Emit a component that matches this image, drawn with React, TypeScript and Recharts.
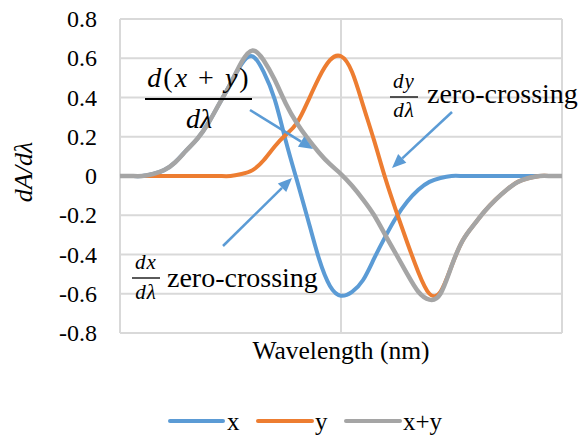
import type { CSSProperties, ReactNode } from 'react';
import { LineChart, Line, XAxis, YAxis, CartesianGrid } from 'recharts';

// wavelength positions (arbitrary units, no tick labels on the axis)
const wavelength = [
  0, 2.5, 5, 7.5, 10, 12.5, 15, 17.5, 20, 22.5, 25, 27.5, 30, 32.5, 35, 37.5, 40, 42.5, 45, 47.5,
  50, 52.5, 55, 57.5, 60, 62.5, 65, 67.5, 70, 72.5, 75, 77.5, 80, 82.5, 85, 87.5, 90, 92.5, 95, 97.5, 100,
];

// dA/dλ for component x
const xValues = [
  0, 0, 0, 0.01, 0.03, 0.07, 0.13, 0.19, 0.27, 0.37, 0.47, 0.57, 0.61, 0.53, 0.39, 0.18, -0.02, -0.22, -0.42, -0.56,
  -0.61, -0.59, -0.53, -0.42, -0.31, -0.21, -0.13, -0.07, -0.03, -0.01, 0, 0, 0, 0, 0, 0, 0, 0, 0, 0, 0,
];

// dA/dλ for component y
const yValues = [
  0, 0, 0, 0, 0, 0, 0, 0, 0, 0, 0, 0.01, 0.03, 0.08, 0.15, 0.21, 0.27, 0.38, 0.5, 0.59,
  0.61, 0.53, 0.36, 0.18, -0.01, -0.18, -0.34, -0.49, -0.6, -0.59, -0.46, -0.33, -0.25, -0.18, -0.12, -0.07, -0.03, -0.01, 0, 0, 0,
];

// dA/dλ for the mixture x+y
const xyValues = [
  0, 0, 0, 0.01, 0.03, 0.07, 0.13, 0.19, 0.27, 0.37, 0.47, 0.58, 0.64, 0.59, 0.49, 0.37, 0.27, 0.19, 0.12, 0.06,
  0.01, -0.05, -0.12, -0.2, -0.3, -0.4, -0.5, -0.59, -0.63, -0.6, -0.46, -0.33, -0.25, -0.18, -0.12, -0.07, -0.03, -0.01, 0, 0, 0,
];

const yTicks = [-0.8, -0.6, -0.4, -0.2, 0, 0.2, 0.4, 0.6, 0.8];
const xTicks = [0, 50, 100];
const seriesNames = ['x', 'y', 'x+y'];

const data = wavelength.map((w, i) => ({ w, x: xValues[i], y: yValues[i], xy: xyValues[i] }));

const FONT = '"Liberation Serif"';
const BLUE = '#5B9BD5';
const ORANGE = '#ED7D31';
const GRAY = '#A5A5A5';
const GRID = '#D9D9D9';
const INK = '#000';

// y tick label drawn as html so the serif font is honoured
function YTick({ x, y, payload }: any) {
  const v = payload.value as number;
  return (
    <foreignObject x={x - 80} y={y - 20} width={80} height={40}>
      <div style={{ width: 80, height: 40, lineHeight: '40px', textAlign: 'right', fontFamily: FONT, fontSize: 24, color: INK }}>
        {v === 0 ? '0' : v.toFixed(1)}
      </div>
    </foreignObject>
  );
}

// text placed by its baseline; anchor like svg text-anchor
function Txt({ x, base, size, anchor = 'start', style, children }: {
  x: number; base: number; size: number; anchor?: 'start' | 'middle' | 'end'; style?: CSSProperties; children: ReactNode;
}) {
  const shift = anchor === 'middle' ? 'translateX(-50%)' : anchor === 'end' ? 'translateX(-100%)' : undefined;
  return (
    <div
      style={{
        position: 'absolute', left: x, top: base - 0.8375 * size, fontSize: size, lineHeight: `${size}px`,
        fontFamily: FONT, color: INK, whiteSpace: 'nowrap', transform: shift, ...style,
      }}
    >
      {children}
    </div>
  );
}

function Arrow({ x1, y1, x2, y2 }: { x1: number; y1: number; x2: number; y2: number }) {
  const len = Math.hypot(x2 - x1, y2 - y1);
  const ux = (x2 - x1) / len;
  const uy = (y2 - y1) / len;
  const bx = x2 - ux * 14;
  const by = y2 - uy * 14;
  const px = -uy * 6;
  const py = ux * 6;
  return (
    <g>
      <line x1={x1} y1={y1} x2={bx} y2={by} stroke={BLUE} strokeWidth={2.5} />
      <polygon points={`${x2},${y2} ${bx + px},${by + py} ${bx - px},${by - py}`} fill={BLUE} />
    </g>
  );
}

function Overlay() {
  return (
    <>
      <svg width={587} height={438} style={{ position: 'absolute', left: 0, top: 0, pointerEvents: 'none' }}>
        <line x1={145} y1={99} x2={252} y2={99} stroke={INK} strokeWidth={1.8} />
        <line x1={390} y1={97} x2={418} y2={97} stroke={INK} strokeWidth={1.3} />
        <line x1={132} y1={278} x2={160} y2={278} stroke={INK} strokeWidth={1.3} />

        <Arrow x1={250} y1={110} x2={313} y2={149} />
        <Arrow x1={223} y1={246} x2={292} y2={178} />
        <Arrow x1={452} y1={112} x2={392} y2={168} />

        {/* legend swatches */}
        <line x1={170} y1={421} x2={223} y2={421} stroke={BLUE} strokeWidth={4} strokeLinecap="round" />
        <line x1={258} y1={421} x2={312} y2={421} stroke={ORANGE} strokeWidth={4} strokeLinecap="round" />
        <line x1={346} y1={421} x2={400} y2={421} stroke={GRAY} strokeWidth={4} strokeLinecap="round" />
      </svg>

      {/* y axis title */}
      <div
        style={{
          position: 'absolute', left: 24 - 60, top: 172 - 13, width: 120, height: 26, lineHeight: '26px', textAlign: 'center',
          fontFamily: FONT, fontSize: 26, fontStyle: 'italic', color: INK, transform: 'rotate(-90deg)',
        }}
      >
        dA/dλ
      </div>

      {/* x axis title */}
      <Txt x={341} base={359} size={25.5} anchor="middle">Wavelength (nm)</Txt>

      {/* d(x+y)/dλ */}
      <Txt x={199} base={87} size={28} anchor="middle" style={{ letterSpacing: 2 }}>
        <i>d</i>(<i>x</i> + <i>y</i>)
      </Txt>
      <Txt x={199} base={128} size={28} anchor="middle" style={{ fontStyle: 'italic' }}>dλ</Txt>

      {/* dy/dλ zero-crossing */}
      <Txt x={404} base={89} size={21} anchor="middle" style={{ fontStyle: 'italic', letterSpacing: 1 }}>dy</Txt>
      <Txt x={404} base={118} size={21} anchor="middle" style={{ fontStyle: 'italic', letterSpacing: 1 }}>dλ</Txt>
      <Txt x={427} base={103} size={28}>zero-crossing</Txt>

      {/* dx/dλ zero-crossing */}
      <Txt x={146} base={270} size={21} anchor="middle" style={{ fontStyle: 'italic', letterSpacing: 1 }}>dx</Txt>
      <Txt x={146} base={300} size={21} anchor="middle" style={{ fontStyle: 'italic', letterSpacing: 1 }}>dλ</Txt>
      <Txt x={167} base={287} size={28}>zero-crossing</Txt>

      {/* legend labels */}
      <Txt x={227} base={430} size={25}>{seriesNames[0]}</Txt>
      <Txt x={315} base={430} size={25}>{seriesNames[1]}</Txt>
      <Txt x={403} base={430} size={25}>{seriesNames[2]}</Txt>
    </>
  );
}

export default function App() {
  return (
    <div style={{ position: 'absolute', left: 0, top: 0, width: 587, height: 438, background: '#fff', fontFamily: FONT }}>
      <LineChart width={587} height={438} data={data} margin={{ top: 19, right: 25, bottom: 105, left: 0 }}>
        <CartesianGrid stroke={GRID} strokeWidth={2} />
        <XAxis type="number" dataKey="w" domain={[0, 100]} ticks={xTicks} hide />
        <YAxis
          type="number"
          domain={[-0.8, 0.8]}
          ticks={yTicks}
          interval={0}
          width={120}
          axisLine={false}
          tickLine={false}
          tickSize={0}
          tickMargin={23}
          tick={<YTick />}
        />
        <Line type="natural" dataKey="x" name={seriesNames[0]} stroke={BLUE} strokeWidth={4} dot={false} isAnimationActive={false} />
        <Line type="natural" dataKey="y" name={seriesNames[1]} stroke={ORANGE} strokeWidth={4} dot={false} isAnimationActive={false} />
        <Line type="natural" dataKey="xy" name={seriesNames[2]} stroke={GRAY} strokeWidth={4.5} dot={false} isAnimationActive={false} />
      </LineChart>
      <Overlay />
    </div>
  );
}
